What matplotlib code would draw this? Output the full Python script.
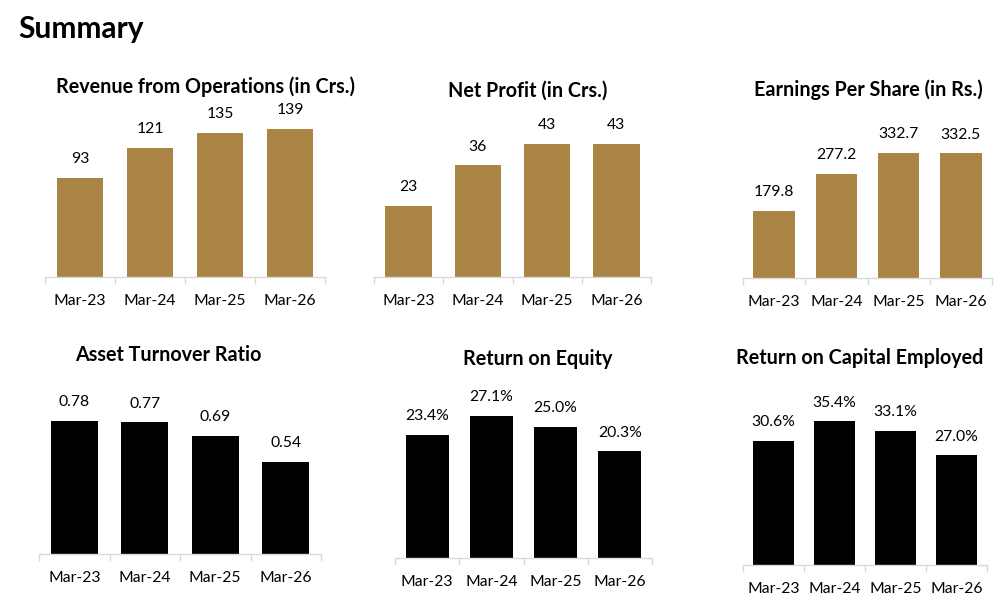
import matplotlib
matplotlib.use("Agg")
import matplotlib.pyplot as plt
from matplotlib.ticker import FixedLocator

plt.rcParams['font.family'] = ['Lato', 'DejaVu Sans']

categories = ["Mar-23", "Mar-24", "Mar-25", "Mar-26"]
revenue = [93, 121, 135, 139]
net_profit = [23, 36, 43, 43]
eps = [179.8, 277.2, 332.7, 332.5]
asset_turnover = [0.78, 0.77, 0.69, 0.54]
roe = [23.4, 27.1, 25.0, 20.3]
roce = [30.6, 35.4, 33.1, 27.0]

revenue_labels = ["93", "121", "135", "139"]
net_profit_labels = ["23", "36", "43", "43"]
eps_labels = ["179.8", "277.2", "332.7", "332.5"]
asset_labels = ["0.78", "0.77", "0.69", "0.54"]
roe_labels = ["23.4%", "27.1%", "25.0%", "20.3%"]
roce_labels = ["30.6%", "35.4%", "33.1%", "27.0%"]

GOLD = "#AA8444"
BLACK = "#000000"
GRID = "#D9D9D9"

W, H = 1002, 605
fig = plt.figure(figsize=(W / 100, H / 100), dpi=100)

fig.text(18 / W, 1 - 29 / H, "Summary", fontsize=21.5, fontweight='bold',
         ha='left', va='center', color='black')

AX_H = 150  # px

# (title, values, labels, color, left, right, baseline, ppu, title_x, title_y)
charts = [
    ("Revenue from Operations (in Crs.)", revenue, revenue_labels, GOLD, 45, 325, 277, 1.065, 206, 87),
    ("Net Profit (in Crs.)", net_profit, net_profit_labels, GOLD, 374, 651, 277, 3.1, 528, 91),
    ("Earnings Per Share (in Rs.)", eps, eps_labels, GOLD, 743, 992, 278, 0.375, 868, 90),
    ("Asset Turnover Ratio", asset_turnover, asset_labels, BLACK, 39, 321, 554, 171.0, 168, 355),
    ("Return on Equity", roe, roe_labels, BLACK, 395, 652, 558, 5.25, 538, 359),
    ("Return on Capital Employed", roce, roce_labels, BLACK, 743, 987, 565, 4.06, 860, 358),
]

for title, vals, labs, col, l, r, base, ppu, tx, ty in charts:
    ax = fig.add_axes([l / W, 1 - base / H, (r - l) / W, AX_H / H])
    x = list(range(len(categories)))
    ax.bar(x, vals, width=0.67, color=col, zorder=2)
    ax.set_xlim(-0.5, len(categories) - 0.5)
    ax.set_ylim(0, AX_H / ppu)
    for xi, v, lab in zip(x, vals, labs):
        ax.annotate(lab, (xi, v), xytext=(0, 13.5), textcoords='offset points',
                    ha='center', va='center', fontsize=11.3, color='black',
                    annotation_clip=False)
    for s in ['top', 'right', 'left']:
        ax.spines[s].set_visible(False)
    ax.spines['bottom'].set_color(GRID)
    ax.spines['bottom'].set_linewidth(1.0)
    ax.set_yticks([])
    ax.set_xticks(x)
    ax.set_xticklabels(categories, fontsize=11.3)
    ax.tick_params(axis='x', which='major', length=0, pad=12, colors='black')
    ax.xaxis.set_minor_locator(FixedLocator([-0.5, 0.5, 1.5, 2.5, 3.5]))
    ax.tick_params(axis='x', which='minor', length=5, width=1.0, color=GRID)
    ax.patch.set_alpha(0)
    fig.text(tx / W, 1 - ty / H, title, fontsize=14.2, fontweight='bold',
             ha='center', va='center', color='black')

fig.savefig("out.png", dpi=100, facecolor='white')
